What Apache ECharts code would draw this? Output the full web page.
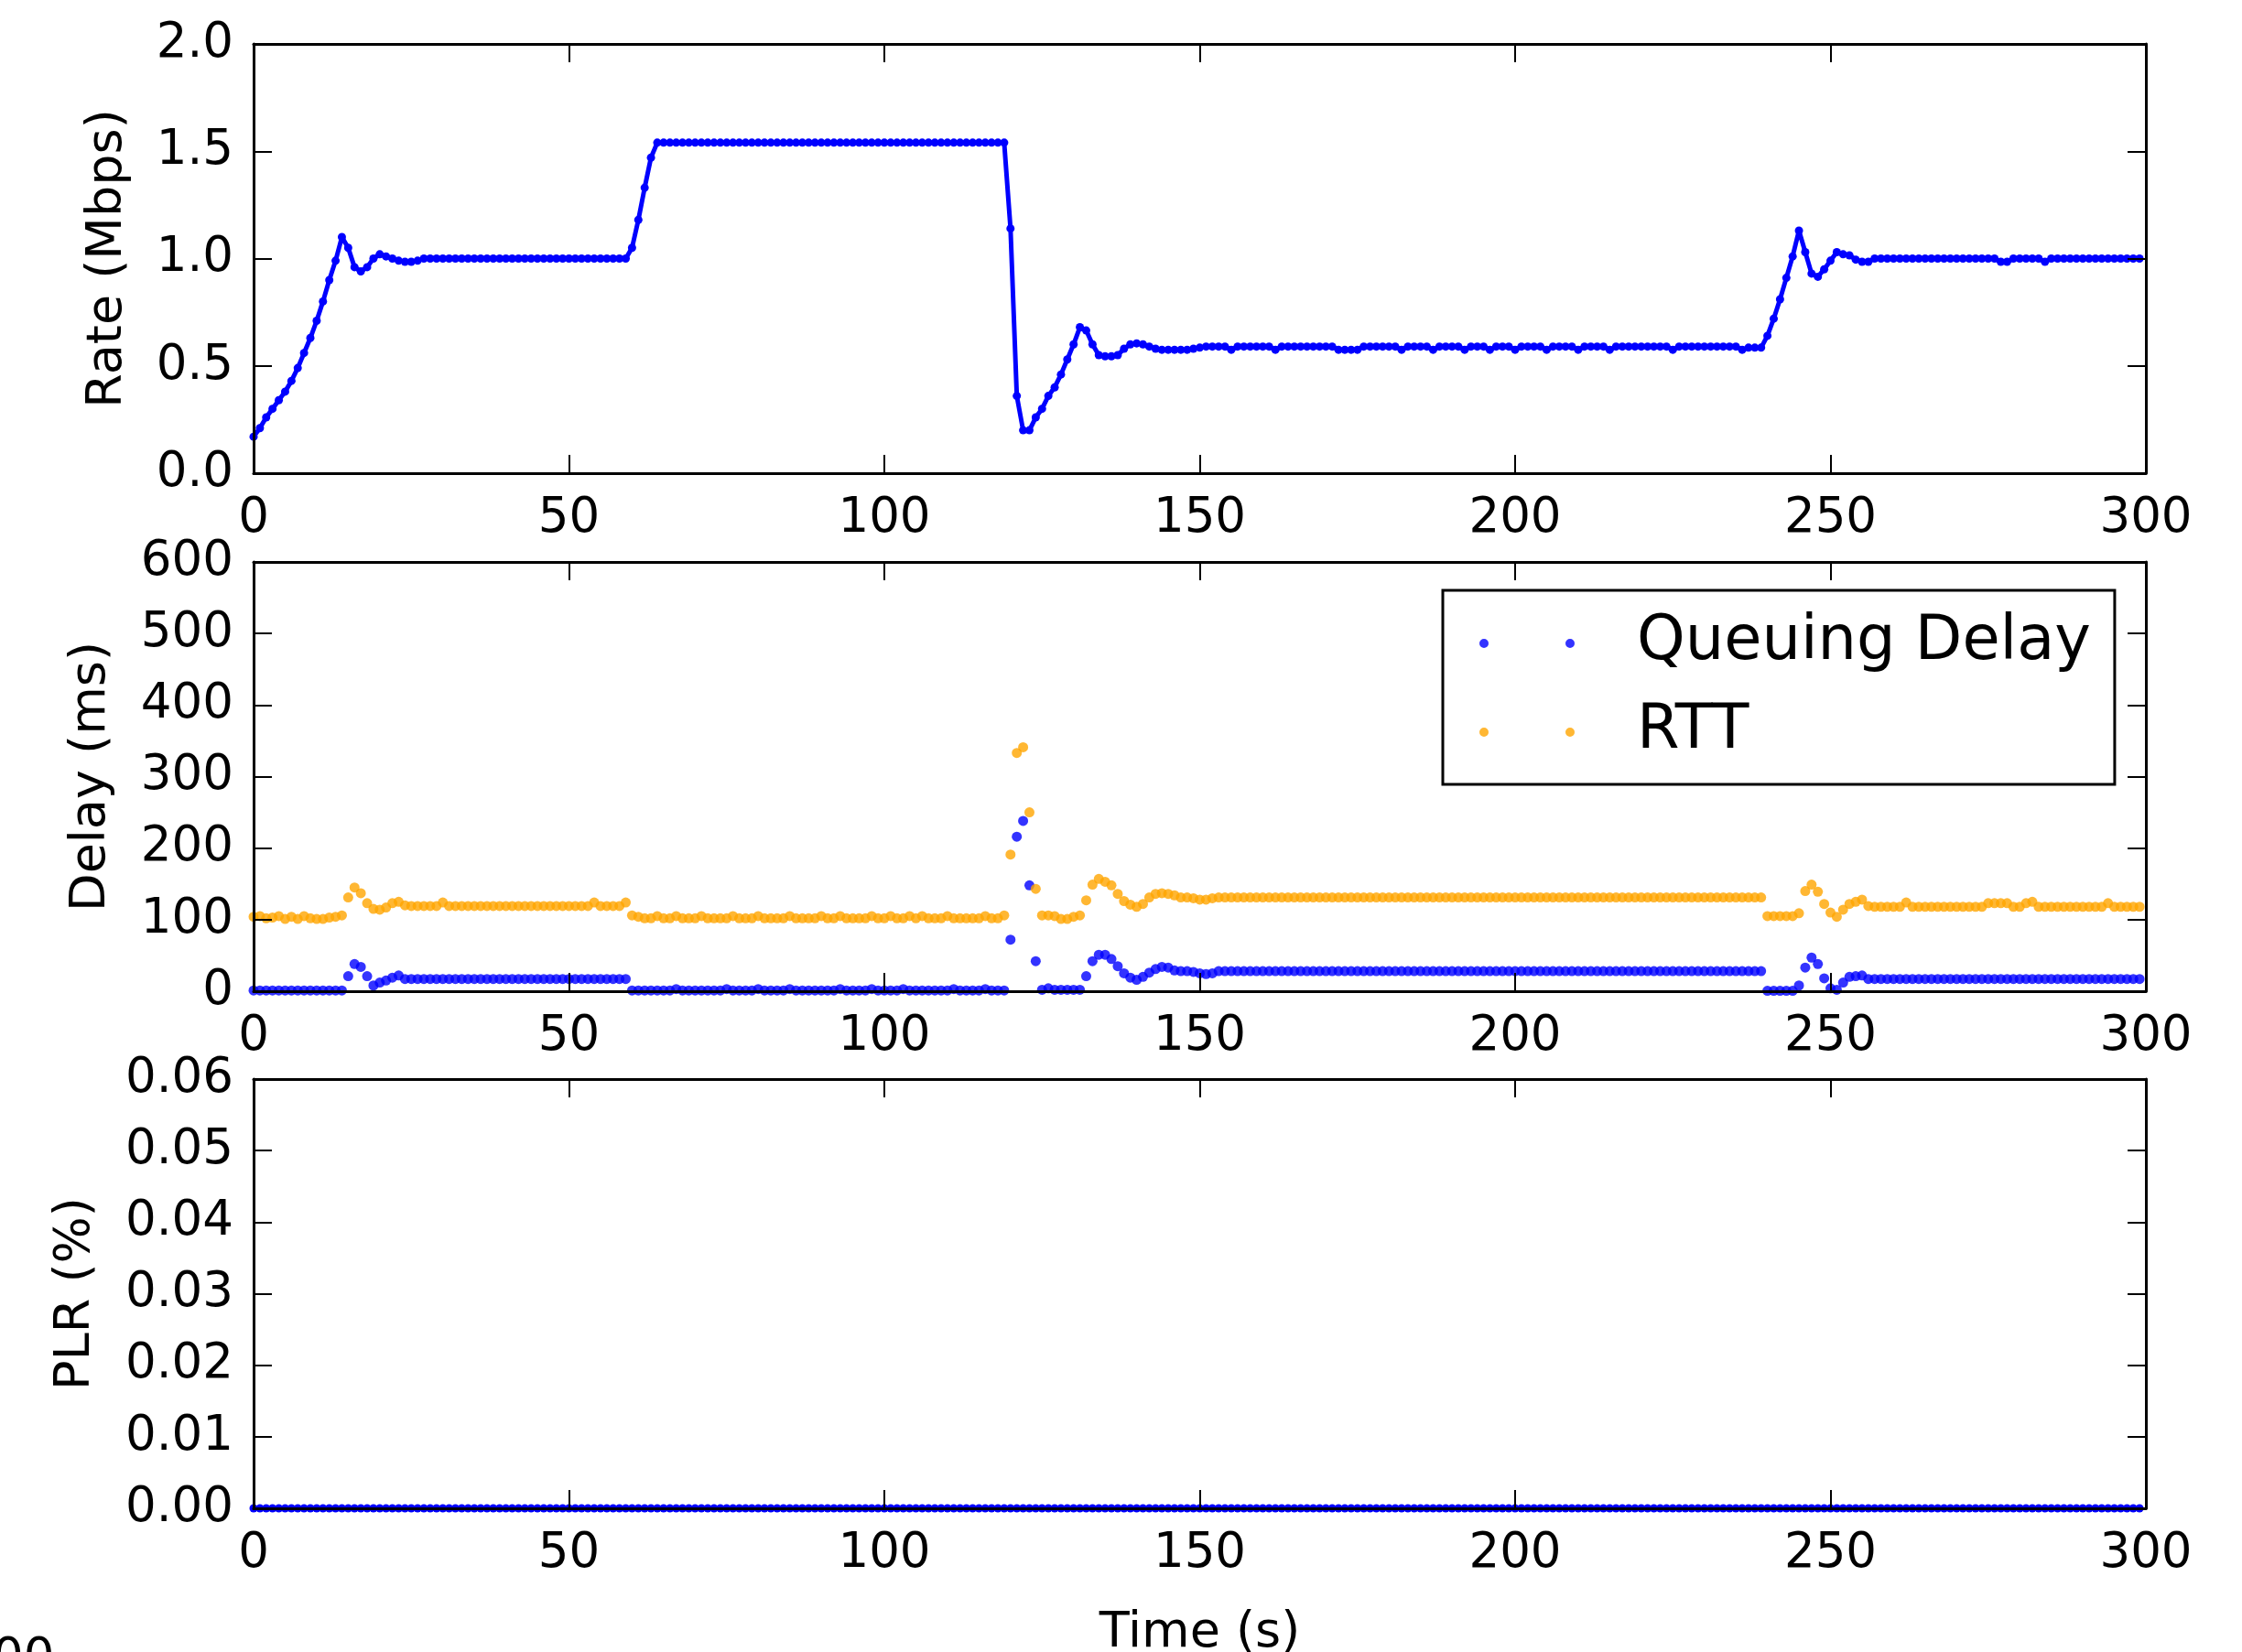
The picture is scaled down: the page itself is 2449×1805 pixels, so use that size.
<!DOCTYPE html>
<html>
<head>
<meta charset="utf-8">
<script src="https://cdn.jsdelivr.net/npm/echarts@6/dist/echarts.min.js"></script>
<style>
html, body { margin: 0; padding: 0; background: #ffffff; overflow: hidden; }
#chart { width: 2449px; height: 1805px; }
</style>
</head>
<body>
<div id="chart"></div>
<script>
// Sending rate (Mbps), one sample per second, t = 0 .. 299 s
const rate = [
  0.17, 0.21, 0.26, 0.30, 0.34, 0.38, 0.43, 0.49, 0.56, 0.63,
  0.71, 0.80, 0.90, 0.99, 1.10, 1.05, 0.96, 0.94, 0.96, 1.00,
  1.02, 1.01, 1.00, 0.99, 0.985, 0.985, 0.99, 1.00, 1.00, 1.00,
  1.00, 1.00, 1.00, 1.00, 1.00, 1.00, 1.00, 1.00, 1.00, 1.00,
  1.00, 1.00, 1.00, 1.00, 1.00, 1.00, 1.00, 1.00, 1.00, 1.00,
  1.00, 1.00, 1.00, 1.00, 1.00, 1.00, 1.00, 1.00, 1.00, 1.00,
  1.05, 1.18, 1.33, 1.47, 1.54, 1.54, 1.54, 1.54, 1.54, 1.54,
  1.54, 1.54, 1.54, 1.54, 1.54, 1.54, 1.54, 1.54, 1.54, 1.54,
  1.54, 1.54, 1.54, 1.54, 1.54, 1.54, 1.54, 1.54, 1.54, 1.54,
  1.54, 1.54, 1.54, 1.54, 1.54, 1.54, 1.54, 1.54, 1.54, 1.54,
  1.54, 1.54, 1.54, 1.54, 1.54, 1.54, 1.54, 1.54, 1.54, 1.54,
  1.54, 1.54, 1.54, 1.54, 1.54, 1.54, 1.54, 1.54, 1.54, 1.54,
  1.14, 0.36, 0.20, 0.20, 0.26, 0.30, 0.36, 0.40, 0.46, 0.53,
  0.60, 0.68, 0.665, 0.60, 0.55, 0.545, 0.545, 0.55, 0.58, 0.60,
  0.605, 0.60, 0.59, 0.58, 0.575, 0.575, 0.575, 0.575, 0.575, 0.58,
  0.585, 0.59, 0.59, 0.59, 0.59, 0.575, 0.59, 0.59, 0.59, 0.59,
  0.59, 0.59, 0.575, 0.59, 0.59, 0.59, 0.59, 0.59, 0.59, 0.59,
  0.59, 0.59, 0.575, 0.575, 0.575, 0.575, 0.59, 0.59, 0.59, 0.59,
  0.59, 0.59, 0.575, 0.59, 0.59, 0.59, 0.59, 0.575, 0.59, 0.59,
  0.59, 0.59, 0.575, 0.59, 0.59, 0.59, 0.575, 0.59, 0.59, 0.59,
  0.575, 0.59, 0.59, 0.59, 0.59, 0.575, 0.59, 0.59, 0.59, 0.59,
  0.575, 0.59, 0.59, 0.59, 0.59, 0.575, 0.59, 0.59, 0.59, 0.59,
  0.59, 0.59, 0.59, 0.59, 0.59, 0.575, 0.59, 0.59, 0.59, 0.59,
  0.59, 0.59, 0.59, 0.59, 0.59, 0.59, 0.575, 0.585, 0.585, 0.585,
  0.64, 0.72, 0.81, 0.91, 1.01, 1.13, 1.03, 0.93, 0.915, 0.95,
  0.99, 1.03, 1.02, 1.015, 0.995, 0.985, 0.985, 1.00, 1.00, 1.00,
  1.00, 1.00, 1.00, 1.00, 1.00, 1.00, 1.00, 1.00, 1.00, 1.00,
  1.00, 1.00, 1.00, 1.00, 1.00, 1.00, 1.00, 0.985, 0.985, 1.00,
  1.00, 1.00, 1.00, 1.00, 0.985, 1.00, 1.00, 1.00, 1.00, 1.00,
  1.00, 1.00, 1.00, 1.00, 1.00, 1.00, 1.00, 1.00, 1.00, 1.00
];

// Queuing delay (ms), t = 0 .. 299 s
const queuingDelay = [
  1, 1, 1, 1, 1, 1, 1, 1, 1, 1,
  1, 1, 1, 1, 1, 21, 38, 34, 21, 8,
  12, 15, 19, 22, 17, 17, 17, 17, 17, 17,
  17, 17, 17, 17, 17, 17, 17, 17, 17, 17,
  17, 17, 17, 17, 17, 17, 17, 17, 17, 17,
  17, 17, 17, 17, 17, 17, 17, 17, 17, 17,
  1, 1, 1, 1, 1, 1, 1, 3, 1, 1,
  1, 1, 1, 1, 1, 3, 1, 1, 1, 1,
  3, 1, 1, 1, 1, 3, 1, 1, 1, 1,
  1, 1, 1, 3, 1, 1, 1, 1, 3, 1,
  1, 1, 1, 3, 1, 1, 1, 1, 1, 1,
  1, 3, 1, 1, 1, 1, 3, 1, 1, 1,
  72, 216, 238, 148, 42, 2, 4, 2, 2, 2,
  2, 2, 21, 42, 51, 51, 45, 35, 25, 19,
  16, 20, 26, 31, 34, 33, 29, 28, 28, 27,
  25, 24, 25, 28, 28, 28, 28, 28, 28, 28,
  28, 28, 28, 28, 28, 28, 28, 28, 28, 28,
  28, 28, 28, 28, 28, 28, 28, 28, 28, 28,
  28, 28, 28, 28, 28, 28, 28, 28, 28, 28,
  28, 28, 28, 28, 28, 28, 28, 28, 28, 28,
  28, 28, 28, 28, 28, 28, 28, 28, 28, 28,
  28, 28, 28, 28, 28, 28, 28, 28, 28, 28,
  28, 28, 28, 28, 28, 28, 28, 28, 28, 28,
  28, 28, 28, 28, 28, 28, 28, 28, 28, 28,
  0.5, 0.5, 0.5, 0.5, 0.5, 8, 33, 47, 38, 18,
  4, 2, 12, 20, 21, 22, 17, 17, 17, 17,
  17, 17, 17, 17, 17, 17, 17, 17, 17, 17,
  17, 17, 17, 17, 17, 17, 17, 17, 17, 17,
  17, 17, 17, 17, 17, 17, 17, 17, 17, 17,
  17, 17, 17, 17, 17, 17, 17, 17, 17, 17
];

// Round-trip time (ms), t = 0 .. 299 s
const rtt = [
  104, 105, 102, 103, 105, 101, 104, 101, 105, 102,
  101, 101, 103, 104, 106, 131, 145, 137, 123, 115,
  114, 117, 123, 125, 120, 119, 119, 119, 119, 119,
  124, 119, 119, 119, 119, 119, 119, 119, 119, 119,
  119, 119, 119, 119, 119, 119, 119, 119, 119, 119,
  119, 119, 119, 119, 124, 119, 119, 119, 119, 124,
  106, 104, 102, 102, 105, 102, 102, 105, 102, 102,
  102, 105, 102, 102, 102, 102, 105, 102, 102, 102,
  105, 102, 102, 102, 102, 105, 102, 102, 102, 102,
  105, 102, 102, 105, 102, 102, 102, 102, 105, 102,
  102, 105, 102, 102, 105, 102, 105, 102, 102, 102,
  105, 102, 102, 102, 102, 102, 105, 102, 102, 106,
  191, 333, 341, 250, 143, 106, 106, 105, 101, 101,
  104, 106, 127, 149, 157, 153, 148, 136, 126, 121,
  118, 122, 131, 136, 137, 136, 134, 131, 131, 130,
  128, 128, 130, 131, 131, 131, 131, 131, 131, 131,
  131, 131, 131, 131, 131, 131, 131, 131, 131, 131,
  131, 131, 131, 131, 131, 131, 131, 131, 131, 131,
  131, 131, 131, 131, 131, 131, 131, 131, 131, 131,
  131, 131, 131, 131, 131, 131, 131, 131, 131, 131,
  131, 131, 131, 131, 131, 131, 131, 131, 131, 131,
  131, 131, 131, 131, 131, 131, 131, 131, 131, 131,
  131, 131, 131, 131, 131, 131, 131, 131, 131, 131,
  131, 131, 131, 131, 131, 131, 131, 131, 131, 131,
  105, 105, 105, 105, 105, 109, 140, 149, 139, 122,
  110, 104, 114, 122, 125, 128, 119, 118, 118, 118,
  118, 118, 124, 118, 118, 118, 118, 118, 118, 118,
  118, 118, 118, 118, 118, 123, 123, 123, 123, 118,
  118, 123, 125, 118, 118, 118, 118, 118, 118, 118,
  118, 118, 118, 118, 123, 118, 118, 118, 118, 118
];

// Packet loss ratio (%), t = 0 .. 299 s
const plr = [
  0, 0, 0, 0, 0, 0, 0, 0, 0, 0, 0, 0, 0, 0, 0, 0, 0, 0, 0, 0,
  0, 0, 0, 0, 0, 0, 0, 0, 0, 0, 0, 0, 0, 0, 0, 0, 0, 0, 0, 0,
  0, 0, 0, 0, 0, 0, 0, 0, 0, 0, 0, 0, 0, 0, 0, 0, 0, 0, 0, 0,
  0, 0, 0, 0, 0, 0, 0, 0, 0, 0, 0, 0, 0, 0, 0, 0, 0, 0, 0, 0,
  0, 0, 0, 0, 0, 0, 0, 0, 0, 0, 0, 0, 0, 0, 0, 0, 0, 0, 0, 0,
  0, 0, 0, 0, 0, 0, 0, 0, 0, 0, 0, 0, 0, 0, 0, 0, 0, 0, 0, 0,
  0, 0, 0, 0, 0, 0, 0, 0, 0, 0, 0, 0, 0, 0, 0, 0, 0, 0, 0, 0,
  0, 0, 0, 0, 0, 0, 0, 0, 0, 0, 0, 0, 0, 0, 0, 0, 0, 0, 0, 0,
  0, 0, 0, 0, 0, 0, 0, 0, 0, 0, 0, 0, 0, 0, 0, 0, 0, 0, 0, 0,
  0, 0, 0, 0, 0, 0, 0, 0, 0, 0, 0, 0, 0, 0, 0, 0, 0, 0, 0, 0,
  0, 0, 0, 0, 0, 0, 0, 0, 0, 0, 0, 0, 0, 0, 0, 0, 0, 0, 0, 0,
  0, 0, 0, 0, 0, 0, 0, 0, 0, 0, 0, 0, 0, 0, 0, 0, 0, 0, 0, 0,
  0, 0, 0, 0, 0, 0, 0, 0, 0, 0, 0, 0, 0, 0, 0, 0, 0, 0, 0, 0,
  0, 0, 0, 0, 0, 0, 0, 0, 0, 0, 0, 0, 0, 0, 0, 0, 0, 0, 0, 0,
  0, 0, 0, 0, 0, 0, 0, 0, 0, 0, 0, 0, 0, 0, 0, 0, 0, 0, 0, 0
];

// Axis ticks and labels
const timeTicks = { min: 0, max: 300, step: 50 };
const rateTicks = { min: 0, max: 2.0, step: 0.5, digits: 1 };
const delayTicks = { min: 0, max: 600, step: 100, digits: 0 };
const plrTicks = { min: 0, max: 0.06, step: 0.01, digits: 2 };
const axisTitles = ['Rate (Mbps)', 'Delay (ms)', 'PLR (%)'];
const timeTitle = 'Time (s)';
const legendNames = ['Queuing Delay', 'RTT'];

// Sample instants in seconds (one sample per second)
const seconds = rate.map((_, i) => i);
const pairs = (vals) => vals.map((v, i) => [seconds[i], v]);

const FONT = 'DejaVu Sans';
const BLUE = '#0000ff';
const ORANGE = '#ffa500';
const TICK_FONT = 53;
const NAME_FONT = 54;

const axisLine = { show: true, onZero: false, lineStyle: { color: '#000', width: 3 } };
const axisTick = { show: true, inside: true, length: 20, lineStyle: { color: '#000', width: 2 } };

// Three stacked panels with fixed pixel boxes (labels may sit outside them)
const grids = [
  { left: 277, top: 48, width: 2067, height: 469, containLabel: false, outerBoundsMode: 'none' },
  { left: 277, top: 614, width: 2067, height: 469, containLabel: false, outerBoundsMode: 'none' },
  { left: 277, top: 1179, width: 2067, height: 469, containLabel: false, outerBoundsMode: 'none' }
];

const xAxes = [];
const yAxes = [];
const yTicks = [rateTicks, delayTicks, plrTicks];
const yNameGaps = [132, 150, 167];

grids.forEach((g, i) => {
  const bottom = {
    type: 'value', gridIndex: i, position: 'bottom',
    min: timeTicks.min, max: timeTicks.max, interval: timeTicks.step,
    axisLine, axisTick, splitLine: { show: false },
    axisLabel: { show: true, fontSize: TICK_FONT, fontFamily: FONT, color: '#000', margin: 24 },
    z: 5
  };
  if (i === 2) {
    bottom.name = timeTitle;
    bottom.nameLocation = 'middle';
    bottom.nameGap = 110;
    bottom.nameTextStyle = { fontSize: NAME_FONT, fontFamily: FONT, color: '#000' };
  }
  xAxes.push(bottom);
  xAxes.push({
    type: 'value', gridIndex: i, position: 'top',
    min: timeTicks.min, max: timeTicks.max, interval: timeTicks.step,
    axisLine, axisTick, splitLine: { show: false }, axisLabel: { show: false },
    z: 5
  });

  const t = yTicks[i];
  yAxes.push({
    type: 'value', gridIndex: i, position: 'left',
    min: t.min, max: t.max, interval: t.step,
    axisLine, axisTick, splitLine: { show: false },
    axisLabel: {
      show: true, fontSize: TICK_FONT, fontFamily: FONT, color: '#000', margin: 22,
      formatter: (v) => Number(v).toFixed(t.digits)
    },
    name: axisTitles[i], nameLocation: 'middle', nameGap: yNameGaps[i],
    nameTextStyle: { fontSize: NAME_FONT, fontFamily: FONT, color: '#000' },
    z: 5
  });
  yAxes.push({
    type: 'value', gridIndex: i, position: 'right',
    min: t.min, max: t.max, interval: t.step,
    axisLine, axisTick, splitLine: { show: false }, axisLabel: { show: false },
    z: 5
  });
});

// Legend icon: two dots, like a marker-only legend entry with two points
const TWO_DOTS = 'path://M0,5a5,5 0 1,0 10,0a5,5 0 1,0 -10,0zM94,5a5,5 0 1,0 10,0a5,5 0 1,0 -10,0z';

const option = {
  backgroundColor: '#ffffff',
  animation: false,
  grid: grids,
  xAxis: xAxes,
  yAxis: yAxes,
  legend: {
    show: true,
    orient: 'vertical',
    left: 1576,
    top: 645,
    data: legendNames.map((n) => ({ name: n, icon: TWO_DOTS })),
    itemWidth: 104,
    itemHeight: 10,
    itemGap: 30,
    padding: [24.5, 26, 23.5, 40],
    borderColor: '#000',
    borderWidth: 3,
    borderRadius: 0,
    backgroundColor: '#ffffff',
    selectedMode: false,
    textStyle: { fontSize: 67, fontFamily: FONT, color: '#000', lineHeight: 67, padding: [0, 0, 0, 63] }
  },
  graphic: [
    { type: 'text', left: -8, top: 1787, silent: true,
      style: { text: '00', fontSize: TICK_FONT, fontFamily: FONT, fill: '#000' } }
  ],
  series: [
    {
      name: 'Rate', type: 'line', xAxisIndex: 0, yAxisIndex: 0,
      data: pairs(rate),
      symbol: 'circle', symbolSize: 9, showSymbol: true, showAllSymbol: true,
      itemStyle: { color: BLUE }, lineStyle: { color: BLUE, width: 5 }
    },
    {
      name: legendNames[0], type: 'scatter', xAxisIndex: 2, yAxisIndex: 2,
      data: pairs(queuingDelay),
      symbol: 'circle', symbolSize: 11, itemStyle: { color: BLUE }
    },
    {
      name: legendNames[1], type: 'scatter', xAxisIndex: 2, yAxisIndex: 2,
      data: pairs(rtt),
      symbol: 'circle', symbolSize: 11, itemStyle: { color: ORANGE }
    },
    {
      name: 'PLR', type: 'line', xAxisIndex: 4, yAxisIndex: 4,
      data: pairs(plr),
      symbol: 'circle', symbolSize: 9, showSymbol: true, showAllSymbol: true,
      itemStyle: { color: BLUE }, lineStyle: { color: BLUE, width: 5 }
    }
  ]
};

const chart = echarts.init(document.getElementById('chart'), null, { renderer: 'canvas' });
chart.setOption(option);
</script>
</body>
</html>
